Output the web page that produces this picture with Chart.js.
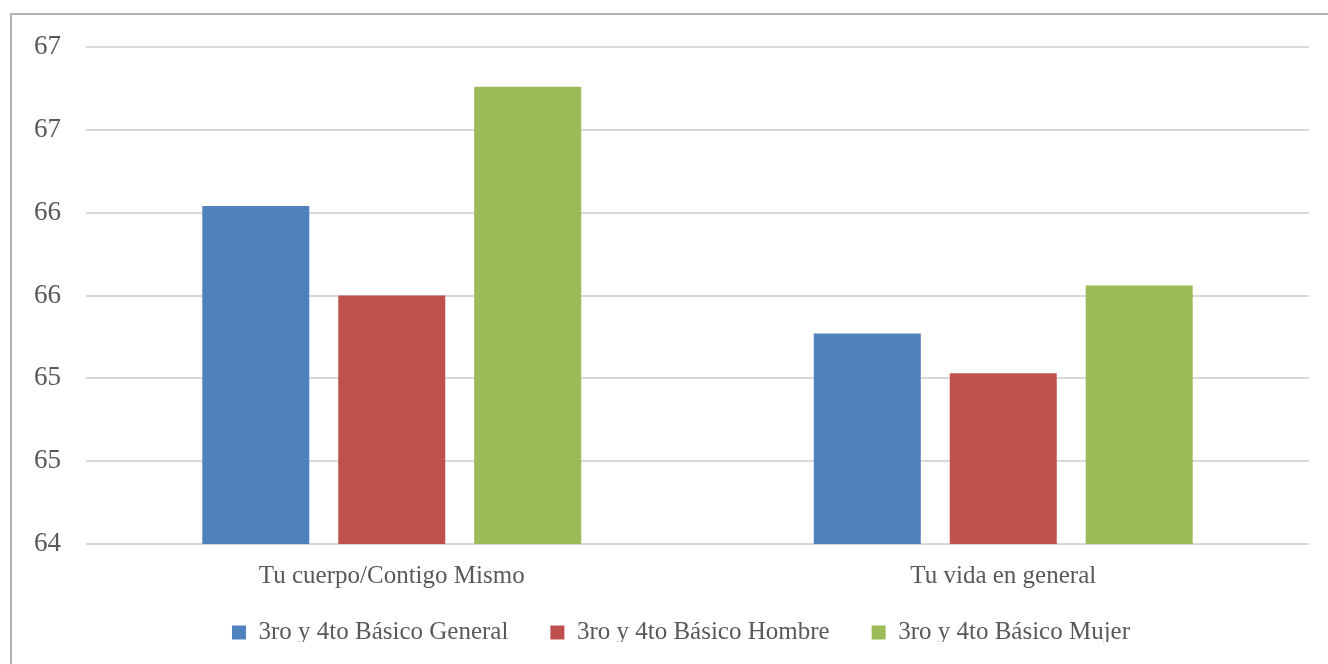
<!DOCTYPE html>
<html>
<head>
<meta charset="utf-8">
<script src="https://cdn.jsdelivr.net/npm/chart.js@4"></script>
<style>
  html, body { margin: 0; padding: 0; background: #ffffff; }
  #wrap { position: relative; width: 1328px; height: 664px; overflow: hidden; }
  #frame { position: absolute; left: 10px; top: 13px; width: 1400px; height: 700px; border: 2px solid #b3b3b3; box-sizing: border-box; }
  #chart { position: absolute; left: 0; top: 0; }
</style>
</head>
<body>
<div id="wrap">
  <div id="frame"></div>
  <canvas id="chart" width="1328" height="664"></canvas>
</div>
<script>
// Categorías y series
const categories = ['Tu cuerpo/Contigo Mismo', 'Tu vida en general'];
const general = [66.04, 65.27];
const hombre = [65.50, 65.03];
const mujer = [66.76, 65.56];
const seriesNames = ['3ro y 4to Básico General', '3ro y 4to Básico Hombre', '3ro y 4to Básico Mujer'];
const seriesColors = ['#4F81BD', '#C0504D', '#9BBB59'];

const fontFamily = "'Liberation Serif', 'DejaVu Serif', serif";
const textColor = '#595959';

// la leyenda: alto fijo y un pequeño desplazamiento
const legendTweak = {
    id: 'legendTweak',
    beforeInit(chart) {
        const lg = chart.legend;
        const fit = lg.fit;
        lg.fit = function () {
            fit.call(this);
            this.height = 64;
        };
    },
    afterLayout(chart) {
        const lg = chart.legend;
        lg.top -= 22;
        lg.bottom -= 22;
        lg.left += 22;
        lg.right += 22;
    }
};

const datasets = [general, hombre, mujer].map((values, i) => ({
    label: seriesNames[i],
    data: values,
    backgroundColor: seriesColors[i],
    borderWidth: 0,
    categoryPercentage: 0.667,
    barPercentage: 0.787
}));

new Chart(document.getElementById('chart').getContext('2d'), {
    type: 'bar',
    data: { labels: categories, datasets: datasets },
    options: {
        responsive: false,
        animation: false,
        layout: { padding: { left: 9, right: 19, top: 47, bottom: 0 } },
        plugins: {
            legend: {
                position: 'bottom',
                labels: {
                    color: textColor,
                    font: { family: fontFamily, size: 25 },
                    boxWidth: 14,
                    boxHeight: 14,
                    padding: 42
                }
            },
            tooltip: { enabled: false }
        },
        scales: {
            x: {
                grid: { display: false },
                border: { display: false },
                ticks: { color: textColor, font: { family: fontFamily, size: 25 }, padding: 9 }
            },
            y: {
                min: 64,
                max: 67,
                ticks: {
                    stepSize: 0.5,
                    color: textColor,
                    font: { family: fontFamily, size: 27 },
                    padding: 25,
                    callback: v => v.toFixed(0)
                },
                grid: { color: '#d9d9d9', lineWidth: 2, drawTicks: false },
                border: { display: false }
            }
        }
    },
    plugins: [legendTweak]
});
</script>
</body>
</html>
